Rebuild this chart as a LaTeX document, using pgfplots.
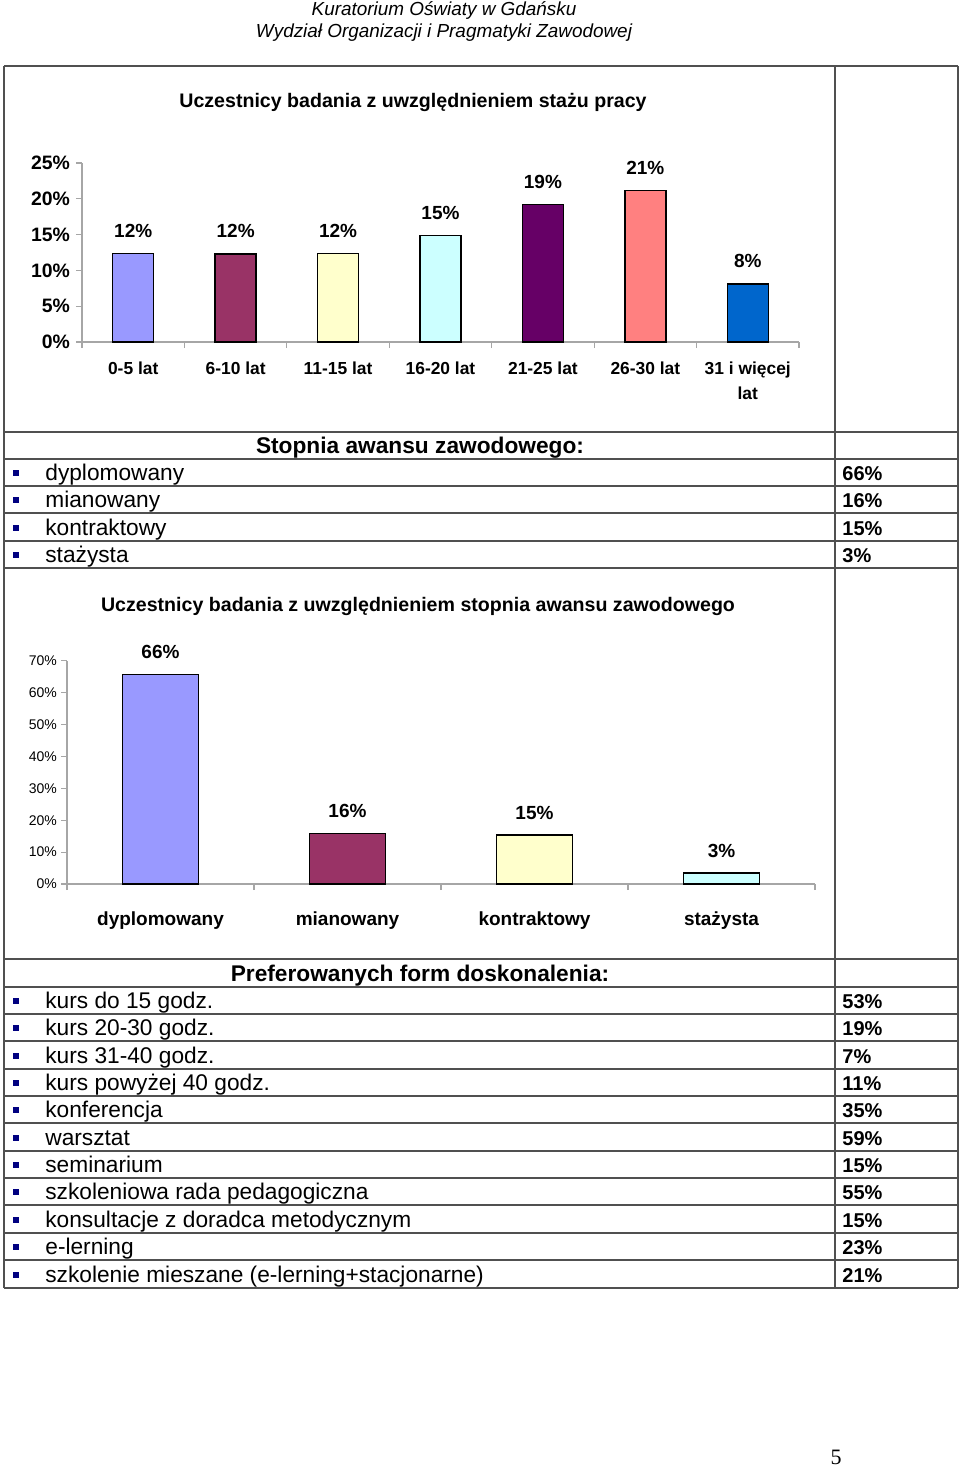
\documentclass[border=0pt]{standalone}
\usepackage{fontspec}
\setmainfont{Liberation Sans}
\newfontfamily\seriffont{Liberation Serif}
\usepackage{pgfplots}
\pgfplotsset{compat=1.18}
\definecolor{c1}{HTML}{9999FF}
\definecolor{c2}{HTML}{993366}
\definecolor{c3}{HTML}{FFFFCC}
\definecolor{c4}{HTML}{CCFFFF}
\definecolor{c5}{HTML}{660066}
\definecolor{c6}{HTML}{FF8080}
\definecolor{c7}{HTML}{0066CC}
\definecolor{bul}{HTML}{000080}
\definecolor{tl}{HTML}{505050}
\newcommand{\rowfont}{\fontsize{11.35}{13}\selectfont}
\newcommand{\valfont}{\bfseries\fontsize{10}{12}\selectfont}
\begin{document}
\begin{tikzpicture}
\begin{scope}[x=0.5pt,y=-0.5pt]
\path[use as bounding box] (0,0) rectangle (960,1466);
% header
\node[anchor=base,inner sep=0,font=\itshape\fontsize{9.45}{11}\selectfont] at (444,16) {Kuratorium Oświaty w Gdańsku};
\node[anchor=base,inner sep=0,font=\itshape\fontsize{9.45}{11}\selectfont] at (444,37.5) {Wydział Organizacji i Pragmatyki Zawodowej};
% table lines
\foreach \x in {4,835,958} \draw[tl,line width=1pt] (\x,66) -- (\x,1288);
\foreach \y in {66,432,459,486,513,541,568,959,987,1014,1041,1069,1096,1123,1151,1178,1205,1233,1260,1288}
  \draw[tl,line width=1pt] (4,\y) -- (958,\y);
% chart titles
\node[anchor=base,inner sep=0,font=\bfseries\fontsize{9.8}{12}\selectfont] at (413,108) {Uczestnicy badania z uwzględnieniem stażu pracy};
\node[anchor=base,inner sep=0,font=\bfseries\fontsize{9.8}{12}\selectfont] at (418,611) {Uczestnicy badania z uwzględnieniem stopnia awansu zawodowego};
% table 1
\node[anchor=base,inner sep=0,font=\bfseries\rowfont] at (420,453.5) {Stopnia awansu zawodowego:};
\foreach \t/\v/\b in {dyplomowany/66/486,mianowany/16/513,kontraktowy/15/541,stażysta/3/568}{
  \fill[bul] (13,\b-16.5) rectangle (19,\b-10.5);
  \node[anchor=base west,inner sep=0,font=\rowfont] at (45,\b-5.5) {\t};
  \node[anchor=base west,inner sep=0,font=\valfont] at (842,\b-6) {\v\%};
}
% table 2
\node[anchor=base,inner sep=0,font=\bfseries\rowfont] at (420,981.5) {Preferowanych form doskonalenia:};
\foreach \t/\v/\b in {kurs do 15 godz./53/1014,kurs 20-30 godz./19/1041,kurs 31-40 godz./7/1069,kurs powyżej 40 godz./11/1096,konferencja/35/1123,warsztat/59/1151,seminarium/15/1178,szkoleniowa rada pedagogiczna/55/1205,konsultacje z doradca metodycznym/15/1233,e-lerning/23/1260,szkolenie mieszane (e-lerning+stacjonarne)/21/1288}{
  \fill[bul] (13,\b-16.5) rectangle (19,\b-10.5);
  \node[anchor=base west,inner sep=0,font=\rowfont] at (45,\b-5.5) {\t};
  \node[anchor=base west,inner sep=0,font=\valfont] at (842,\b-6) {\v\%};
}
% page number
\node[anchor=base,inner sep=0,font=\seriffont\fontsize{11}{13}\selectfont] at (836,1464) {5};
\end{scope}
% chart 1
\begin{axis}[at={(41pt,-171pt)}, anchor=south west, scale only axis,
  width=358.5pt, height=89.5pt,
  xmin=-0.5, xmax=6.5, ymin=0, ymax=25, clip=false,
  axis lines=left, axis line style={-, draw=gray!70, line width=0.6pt},
  tick align=outside, major tick length=3pt, minor tick length=3pt,
  every tick/.style={draw=gray!70, line width=0.6pt},
  /pgf/number format/assume math mode=true,
  ytick={0,5,...,25}, yticklabel={\pgfmathprintnumber{\tick}\%},
  yticklabel style={font=\bfseries\fontsize{9.7}{11}\selectfont, xshift=0.5pt},
  xtick={0,...,6},
  xticklabels={0-5 lat,6-10 lat,11-15 lat,16-20 lat,21-25 lat,26-30 lat,{31 i więcej\\lat}},
  xticklabel style={font=\bfseries\fontsize{8.7}{12.5}\selectfont, align=center, anchor=north, inner sep=0pt, yshift=-6.5pt},
  major x tick style={draw=none},
  minor xtick={-0.5,0.5,...,6.5},
  ybar, bar width=20.5pt,
  nodes near coords={\pgfmathprintnumber[fixed,precision=0]{\pgfplotspointmeta}\%},
  nodes near coords style={font=\bfseries\fontsize{9.5}{11}\selectfont, anchor=center, yshift=11.3pt},
]
\addplot[fill=c1, draw=black, line width=0.7pt, bar shift=0pt] coordinates {(0,12.4)};
\addplot[fill=c2, draw=black, line width=0.7pt, bar shift=0pt] coordinates {(1,12.3)};
\addplot[fill=c3, draw=black, line width=0.7pt, bar shift=0pt] coordinates {(2,12.4)};
\addplot[fill=c4, draw=black, line width=0.7pt, bar shift=0pt] coordinates {(3,14.9)};
\addplot[fill=c5, draw=black, line width=0.7pt, bar shift=0pt] coordinates {(4,19.2)};
\addplot[fill=c6, draw=black, line width=0.7pt, bar shift=0pt] coordinates {(5,21.2)};
\addplot[fill=c7, draw=black, line width=0.7pt, bar shift=0pt] coordinates {(6,8.1)};
\end{axis}
% chart 2
\begin{axis}[at={(33.5pt,-442pt)}, anchor=south west, scale only axis,
  width=374pt, height=111.65pt,
  xmin=-0.5, xmax=3.5, ymin=0, ymax=70, clip=false,
  axis lines=left, axis line style={-, draw=gray!70, line width=0.6pt},
  tick align=outside, major tick length=3pt, minor tick length=3pt,
  every tick/.style={draw=gray!70, line width=0.6pt},
  /pgf/number format/assume math mode=true,
  ytick={0,10,...,70}, yticklabel={\pgfmathprintnumber{\tick}\%},
  yticklabel style={font=\fontsize{7}{8}\selectfont, xshift=1.5pt},
  xtick={0,...,3},
  xticklabels={dyplomowany,mianowany,kontraktowy,stażysta},
  xticklabel style={font=\bfseries\fontsize{9.5}{11}\selectfont, anchor=north, inner sep=0pt, yshift=-10.5pt},
  major x tick style={draw=none},
  minor xtick={-0.5,0.5,...,3.5},
  ybar, bar width=38pt,
  nodes near coords={\pgfmathprintnumber[fixed,precision=0]{\pgfplotspointmeta}\%},
  nodes near coords style={font=\bfseries\fontsize{9.5}{11}\selectfont, anchor=center, yshift=11.2pt},
]
\addplot[fill=c1, draw=black, line width=0.7pt, bar shift=0pt] coordinates {(0,65.6)};
\addplot[fill=c2, draw=black, line width=0.7pt, bar shift=0pt] coordinates {(1,15.8)};
\addplot[fill=c3, draw=black, line width=0.7pt, bar shift=0pt] coordinates {(2,15.4)};
\addplot[fill=c4, draw=black, line width=0.7pt, bar shift=0pt] coordinates {(3,3.4)};
\end{axis}
\end{tikzpicture}
\end{document}
